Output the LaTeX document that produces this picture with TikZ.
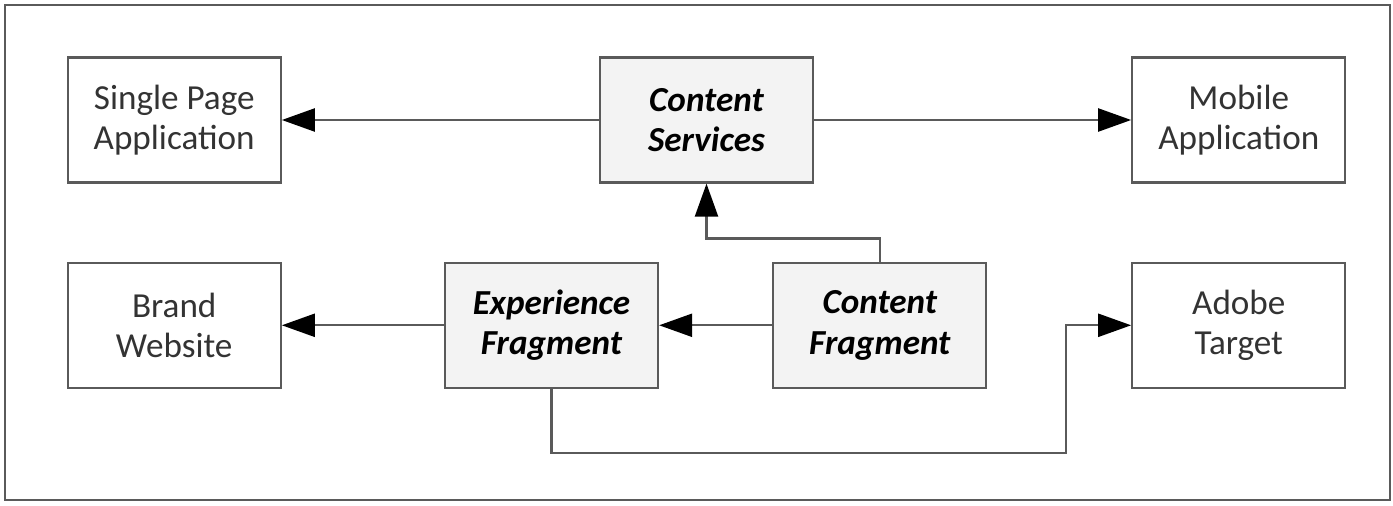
\documentclass[tikz,border=0pt]{standalone}
\usepackage{fontspec}
\setmainfont{Carlito}
\usepackage{tikz}
\usetikzlibrary{calc,positioning}
\usetikzlibrary{arrows.meta}
\definecolor{edgegray}{HTML}{5A5A5A}
\definecolor{boxfill}{HTML}{F3F3F3}
\definecolor{txtgray}{HTML}{333333}
\tikzset{>={Triangle[width=4.6mm,length=6.6mm,color=black]}}

\begin{document}
\begin{tikzpicture}
    \tikzstyle{pnode} = [rectangle, draw=edgegray, line width=1.3pt, minimum width=4.26cm, minimum height=2.5cm, align=center, text=txtgray, font=\fontsize{20}{23}\selectfont]
    \tikzstyle{cnode} = [pnode, fill=boxfill, text=black, font=\fontsize{20}{23}\selectfont\bfseries\itshape]
    \tikzstyle{link} = [->, draw=edgegray, line width=1.3pt]

    \useasboundingbox (0,0) rectangle (27.86,10.1);
    \draw[edgegray, line width=1.3pt] (0.1,0.1) rectangle (27.8,10.0);

    \node[cnode] (cs) at (14.13,7.7) {Content\\Services};
    \node[pnode, left=6.34cm of cs] (spa) {Single Page\\Application};
    \node[pnode, right=6.34cm of cs] (mob) {Mobile\\Application};
    \node[pnode, below=1.56cm of spa] (brand) {Brand\\Website};
    \node[cnode, right=3.24cm of brand] (ef) {Experience\\Fragment};
    \node[cnode, right=2.26cm of ef] (cf) {Content\\Fragment};
    \node[pnode, below=1.56cm of mob] (at) {Adobe\\Target};

    \draw[link] (cs) -- (spa);
    \draw[link] (cs) -- (mob);
    \draw[link] (cf.north) -- ++(0,0.46) -| (cs.south);
    \draw[link] (cf) -- (ef);
    \draw[link] (ef) -- (brand);
    \draw[link] (ef.south) -- ++(0,-1.28) -| ($(at.west)+(-1.3,0)$) -- (at.west);
\end{tikzpicture}
\end{document}
